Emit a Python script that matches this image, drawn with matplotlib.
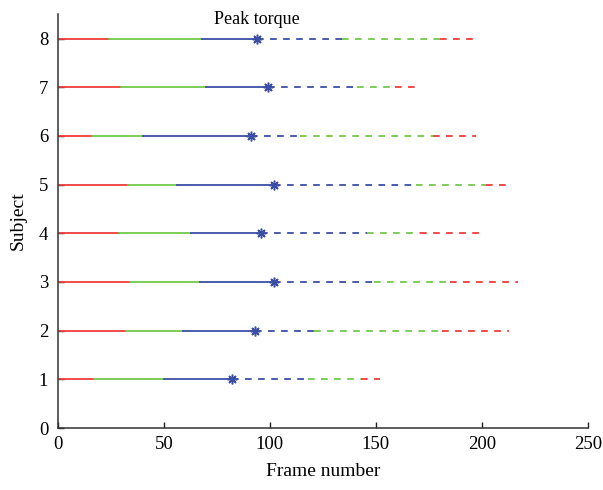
import matplotlib
matplotlib.use("Agg")
import matplotlib.pyplot as plt

# Phase boundaries per subject (frame numbers)
subjects = [1, 2, 3, 4, 5, 6, 7, 8]
red_end = [17, 32, 34, 29, 33, 16, 30, 24]
green_end = [50, 59, 67, 63, 56, 40, 70, 68]
peak = [82, 93, 102, 96, 102, 91, 99, 94]
blue_end = [118, 121, 149, 146, 169, 114, 141, 134]
green2_end = [143, 181, 185, 171, 202, 177, 159, 180]
red2_end = [152, 213, 217, 200, 213, 197, 170, 196]

RED = "#f23a3a"
GREEN = "#72c84a"
BLUE = "#3a4ea6"

plt.rcParams["font.family"] = ["Liberation Serif", "DejaVu Serif"]
plt.rcParams["lines.scale_dashes"] = False

fig = plt.figure(figsize=(6.03, 4.90), dpi=100)
ax = fig.add_axes([0.096, 0.1265, 0.879, 0.8445])

lw = 1.3
dash = (4.8, 4.6)
for i, s in enumerate(subjects):
    ax.plot([0, red_end[i]], [s, s], color=RED, lw=lw)
    ax.plot([red_end[i], green_end[i]], [s, s], color=GREEN, lw=lw)
    ax.plot([green_end[i], peak[i]], [s, s], color=BLUE, lw=lw)
    ax.plot([peak[i], blue_end[i]], [s, s], color=BLUE, lw=lw, dashes=dash)
    ax.plot([blue_end[i], green2_end[i]], [s, s], color=GREEN, lw=lw, dashes=dash)
    ax.plot([green2_end[i], red2_end[i]], [s, s], color=RED, lw=lw, dashes=dash)
    ax.plot(peak[i], s, marker=(8, 2, 0), color=BLUE, ms=7, mew=1.1)

ax.text(peak[-1], 8.4, "Peak torque", ha="center", va="center", fontsize=13)

ax.set_xlim(0, 250)
ax.set_ylim(0, 8.5)
ax.set_xticks([0, 50, 100, 150, 200, 250])
ax.set_yticks(range(0, 9))
ax.tick_params(direction="in", labelsize=13.5, length=4.5, width=1.0, color="#222222")
ax.tick_params(axis="x", pad=6)
ax.tick_params(axis="y", pad=7)
ax.spines["top"].set_visible(False)
ax.spines["right"].set_visible(False)
for sp in ("left", "bottom"):
    ax.spines[sp].set_linewidth(1.1)
    ax.spines[sp].set_color("#333333")
ax.set_xlabel("Frame number", fontsize=14, labelpad=7)
ax.set_ylabel("Subject", fontsize=14, labelpad=9)

fig.savefig("out.png", dpi=100)
